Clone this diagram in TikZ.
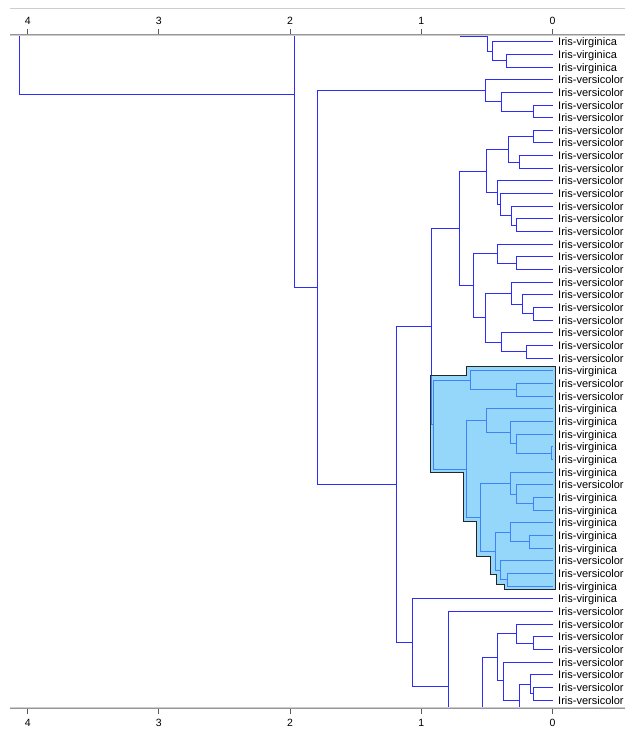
\documentclass[tikz,border=0pt]{standalone}
\usepackage{fontspec}
\setmainfont{Liberation Sans}
\usetikzlibrary{calc}
\definecolor{linkblue}{RGB}{45,45,250}
\definecolor{selfill}{RGB}{77,188,247}
\definecolor{axisdark}{RGB}{150,150,150}
\definecolor{axislight}{RGB}{205,205,205}

\begin{document}
\begin{tikzpicture}[
  x=1pt, y=-1pt,
  link/.style={draw=linkblue, line width=1pt},
  leaflabel/.style={anchor=west, inner xsep=5pt, inner ysep=0pt, text height=8pt, text depth=0pt, font=\fontsize{11}{12}\selectfont},
  ticklabel/.style={inner sep=0pt, font=\fontsize{10.5}{12}\selectfont},
  tickmark/.style={draw=black!65, line width=1pt},
  selbox/.style={fill=selfill, fill opacity=0.6, draw=none}
]
\useasboundingbox (0,0) rectangle (625,731);

\begin{scope}
\clip (0,35.5) rectangle (625,707.9);

% leaves
\foreach \lab [count=\i] in {virginica,virginica,virginica,
  versicolor,versicolor,versicolor,versicolor,versicolor,versicolor,versicolor,versicolor,
  versicolor,versicolor,versicolor,versicolor,versicolor,versicolor,versicolor,versicolor,
  versicolor,versicolor,versicolor,versicolor,versicolor,versicolor,versicolor,
  virginica,versicolor,versicolor,virginica,virginica,virginica,virginica,virginica,virginica,
  versicolor,virginica,virginica,virginica,virginica,virginica,versicolor,versicolor,
  virginica,virginica,versicolor,versicolor,versicolor,versicolor,versicolor,versicolor,
  versicolor,versicolor}
  \node[leaflabel] (l\i) at (553,{41.7+12.66*(\i-1)}) {Iris-\lab};
\coordinate (l54) at (553,717);

% upper joins
\coordinate (root) at (19,-300);
\coordinate (rootup) at (200,-694);
\coordinate (n2) at (294,94);
\coordinate (n2up) at (400,-99.6);
\coordinate (n3) at (317.5,287.6);
\coordinate (z) at (396,484.5);
\coordinate (p) at (431.7,326.6);
\coordinate (nn) at (459.3,228.4);

% virginica on top
\coordinate (c0) at (460,0);
\coordinate (c) at (487,36.5);
\coordinate (ctop) at (520,21.8);
\coordinate (b) at (492.7,51.2);
\coordinate (a) at (506,60.7);

% versicolor groups
\coordinate (f) at (485,90.7);
\coordinate (e) at (501,101.8);
\coordinate (d) at (533.3,111.3);
\coordinate (m) at (486.5,171.1);
\coordinate (gh) at (508.3,149.3);
\coordinate (g) at (533.3,136.7);
\coordinate (h) at (519.5,162);
\coordinate (j) at (497.3,192.8);
\coordinate (j2) at (500.7,204.7);
\coordinate (k2) at (511.7,215.8);
\coordinate (kl) at (516.7,225.3);
\coordinate (sq) at (473.3,285.8);
\coordinate (q) at (497.3,253.7);
\coordinate (r) at (516.7,263.2);
\coordinate (tw) at (485,317.9);
\coordinate (tu) at (511.7,293.3);
\coordinate (uv) at (522.7,304.4);
\coordinate (v) at (533.3,313.9);
\coordinate (w) at (501.7,342.4);
\coordinate (wx) at (526,351.9);

% selected cluster
\coordinate (ac) at (433.3,424.7);
\coordinate (ab) at (470,380.3);
\coordinate (aa) at (516.7,389.8);
\coordinate (ad) at (466.7,469);
\coordinate (ae) at (486,420.7);
\coordinate (ah) at (510,432.6);
\coordinate (ag) at (516.7,443.6);
\coordinate (af) at (551.7,453.1);
\coordinate (al) at (480,517.3);
\coordinate (ak) at (510,483.2);
\coordinate (aj) at (516.7,494.3);
\coordinate (ai) at (533.3,503.8);
\coordinate (am) at (495,551.3);
\coordinate (ao) at (510,532.3);
\coordinate (an) at (529.3,541.8);
\coordinate (ar) at (500,570.2);
\coordinate (aq) at (507.3,579.7);

% bottom
\coordinate (bb) at (412.3,642.3);
\coordinate (ba) at (448.3,686);
\coordinate (bk) at (463.3,760.7);
\coordinate (bkdn) at (480,814);
\coordinate (bj) at (482.7,707.3);
\coordinate (bl) at (540,757.6);
\coordinate (be) at (497.3,657);
\coordinate (bd) at (516.7,633.5);
\coordinate (bc) at (533.3,643);
\coordinate (bi) at (503,680.3);
\coordinate (bh) at (519.3,700.5);
\coordinate (bg) at (530,684.1);
\coordinate (bf) at (533.3,693.7);

\draw[link] (root) |- (rootup);  \draw[link] (root) |- (n2);
\draw[link] (n2) |- (n2up);      \draw[link] (n2) |- (n3);
\draw[link] (n3) |- (f);         \draw[link] (n3) |- (z);
\draw[link] (z) |- (p);          \draw[link] (z) |- (bb);
\draw[link] (p) |- (nn);         \draw[link] (p) |- (ac);
\draw[link] (nn) |- (m);         \draw[link] (nn) |- (sq);

\draw[link] (c0) |- (c);
\draw[link] (c) |- (ctop);       \draw[link] (c) |- (b);
\draw[link] (b) |- (l1);         \draw[link] (b) |- (a);
\draw[link] (a) |- (l2);         \draw[link] (a) |- (l3);

\draw[link] (f) |- (l4);         \draw[link] (f) |- (e);
\draw[link] (e) |- (l5);         \draw[link] (e) |- (d);
\draw[link] (d) |- (l6);         \draw[link] (d) |- (l7);

\draw[link] (m) |- (gh);         \draw[link] (m) |- (j);
\draw[link] (gh) |- (g);         \draw[link] (gh) |- (h);
\draw[link] (g) |- (l8);         \draw[link] (g) |- (l9);
\draw[link] (h) |- (l10);        \draw[link] (h) |- (l11);
\draw[link] (j) |- (l12);        \draw[link] (j) |- (j2);
\draw[link] (j2) |- (l13);       \draw[link] (j2) |- (k2);
\draw[link] (k2) |- (l14);       \draw[link] (k2) |- (kl);
\draw[link] (kl) |- (l15);       \draw[link] (kl) |- (l16);

\draw[link] (sq) |- (q);         \draw[link] (sq) |- (tw);
\draw[link] (q) |- (l17);        \draw[link] (q) |- (r);
\draw[link] (r) |- (l18);        \draw[link] (r) |- (l19);
\draw[link] (tw) |- (tu);        \draw[link] (tw) |- (w);
\draw[link] (tu) |- (l20);       \draw[link] (tu) |- (uv);
\draw[link] (uv) |- (l21);       \draw[link] (uv) |- (v);
\draw[link] (v) |- (l22);        \draw[link] (v) |- (l23);
\draw[link] (w) |- (l24);        \draw[link] (w) |- (wx);
\draw[link] (wx) |- (l25);       \draw[link] (wx) |- (l26);

\draw[link] (ac) |- (ab);        \draw[link] (ac) |- (ad);
\draw[link] (ab) |- (l27);       \draw[link] (ab) |- (aa);
\draw[link] (aa) |- (l28);       \draw[link] (aa) |- (l29);
\draw[link] (ad) |- (ae);        \draw[link] (ad) |- (al);
\draw[link] (ae) |- (l30);       \draw[link] (ae) |- (ah);
\draw[link] (ah) |- (l31);       \draw[link] (ah) |- (ag);
\draw[link] (ag) |- (l32);       \draw[link] (ag) |- (af);
\draw[link] (af) |- (l33);       \draw[link] (af) |- (l34);
\draw[link] (al) |- (ak);        \draw[link] (al) |- (am);
\draw[link] (ak) |- (l35);       \draw[link] (ak) |- (aj);
\draw[link] (aj) |- (l36);       \draw[link] (aj) |- (ai);
\draw[link] (ai) |- (l37);       \draw[link] (ai) |- (l38);
\draw[link] (am) |- (ao);        \draw[link] (am) |- (ar);
\draw[link] (ao) |- (l39);       \draw[link] (ao) |- (an);
\draw[link] (an) |- (l40);       \draw[link] (an) |- (l41);
\draw[link] (ar) |- (l42);       \draw[link] (ar) |- (aq);
\draw[link] (aq) |- (l43);       \draw[link] (aq) |- (l44);

\draw[link] (bb) |- (l45);       \draw[link] (bb) |- (ba);
\draw[link] (ba) |- (l46);       \draw[link] (ba) |- (bk);
\draw[link] (bk) |- (bj);        \draw[link] (bk) |- (bkdn);
\draw[link] (bj) |- (be);        \draw[link] (bj) |- (bl);
\draw[link] (be) |- (bd);        \draw[link] (be) |- (bi);
\draw[link] (bd) |- (l47);       \draw[link] (bd) |- (bc);
\draw[link] (bc) |- (l48);       \draw[link] (bc) |- (l49);
\draw[link] (bi) |- (l50);       \draw[link] (bi) |- (bh);
\draw[link] (bh) |- (bg);        \draw[link] (bh) |- (l54);
\draw[link] (bg) |- (l51);       \draw[link] (bg) |- (bf);
\draw[link] (bf) |- (l52);       \draw[link] (bf) |- (l53);

% selection
\path[selbox] (466.3,366) -- (555,366) -- (555,589.3) -- (504,589.3) -- (504,584)
  -- (496.7,584) -- (496.7,574.3) -- (490.7,574.3) -- (490.7,556) -- (476,556)
  -- (476,521.7) -- (463.3,521.7) -- (463.3,472.7) -- (430.3,472.7) -- (430.3,375.7)
  -- (466.3,375.7) -- cycle;
\draw[black!85, line width=1pt] (466.3,366) -- (555,366) -- (555,589.3) -- (504,589.3) -- (504,584)
  -- (496.7,584) -- (496.7,574.3) -- (490.7,574.3) -- (490.7,556) -- (476,556)
  -- (476,521.7) -- (463.3,521.7) -- (463.3,472.7) -- (430.3,472.7) -- (430.3,375.7)
  -- (466.3,375.7) -- cycle;
\end{scope}

% axes
\draw[axislight, line width=0.8pt] (10,8) -- (625,8);
\draw[axisdark, line width=1.2pt] (10,34.2) -- (625,34.2);
\draw[axislight, line width=1pt] (10,35.6) -- (625,35.6);
\draw[axislight, line width=1pt] (10,707.4) -- (625,707.4);
\draw[axisdark, line width=1.2pt] (10,708.8) -- (625,708.8);
\foreach \k in {0,...,4} {
  \node[ticklabel] (top\k) at ({552.5-131.2*\k},20.5) {\k};
  \node[ticklabel] (bot\k) at ({552.5-131.2*\k},723) {\k};
  \draw[tickmark] ({552.5-131.2*\k},28.8) -- ({552.5-131.2*\k},33.6);
  \draw[tickmark] ({552.5-131.2*\k},709.4) -- ({552.5-131.2*\k},714.2);
}
\end{tikzpicture}
\end{document}
